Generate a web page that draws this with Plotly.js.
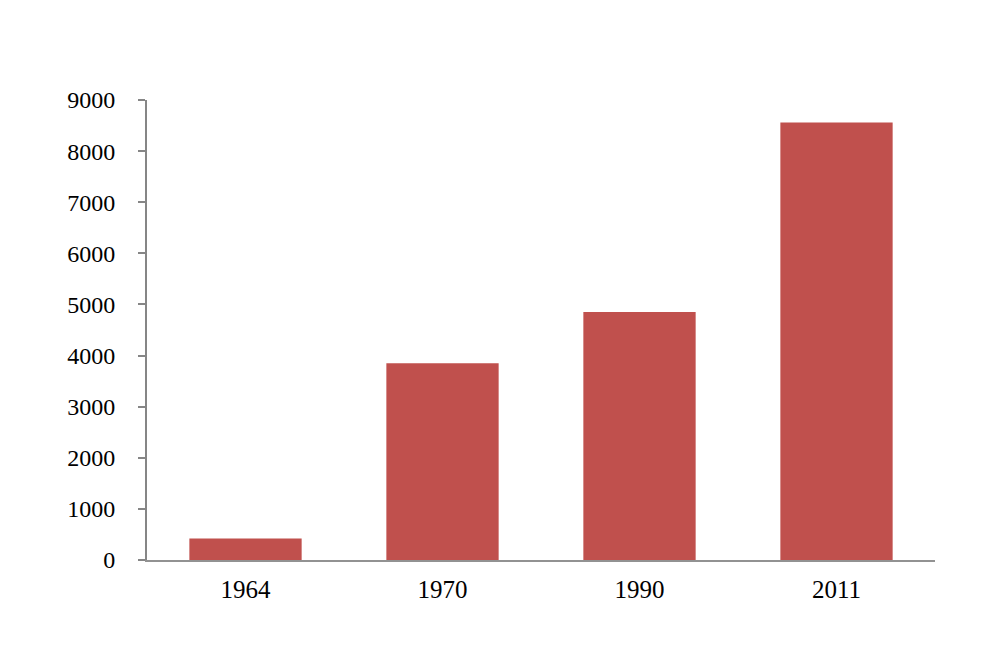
<!DOCTYPE html>
<html>
<head>
<meta charset="utf-8">
<script src="https://cdn.plot.ly/plotly-3.0.1.min.js"></script>
<style>html,body{margin:0;padding:0;background:#fff;}#chart{width:1000px;height:668px;}</style>
</head>
<body>
<div id="chart"></div>
<script>
const years = ["1964", "1970", "1990", "2011"];
const values = [420, 3850, 4850, 8560];
const yTicks = [0, 1000, 2000, 3000, 4000, 5000, 6000, 7000, 8000, 9000];

const trace = {
  type: "bar",
  x: years,
  y: values,
  marker: {color: "#C0504D", line: {width: 0}},
  hoverinfo: "x+y"
};

const layout = {
  width: 1000,
  height: 668,
  margin: {l: 147, r: 65, t: 100, b: 108},
  paper_bgcolor: "#ffffff",
  plot_bgcolor: "#ffffff",
  showlegend: false,
  bargap: 0.43,
  font: {family: "Liberation Serif, Times New Roman, serif", size: 24, color: "#000"},
  xaxis: {
    type: "category",
    showline: true,
    linecolor: "#929292",
    linewidth: 2,
    ticks: "",
    showgrid: false,
    zeroline: false,
    ticklabelstandoff: 6,
    tickfont: {family: "Liberation Serif, serif", size: 25, color: "#000"}
  },
  yaxis: {
    range: [0, 9000],
    tickvals: yTicks,
    ticktext: yTicks.map(String),
    showline: true,
    linecolor: "#868686",
    linewidth: 2,
    ticks: "outside",
    ticklen: 7,
    tickwidth: 2,
    tickcolor: "#868686",
    showgrid: false,
    zeroline: false,
    ticklabelstandoff: 18,
    tickfont: {family: "Liberation Serif, serif", size: 24, color: "#000"}
  }
};

Plotly.newPlot("chart", [trace], layout, {displayModeBar: false, staticPlot: true});
</script>
</body>
</html>
